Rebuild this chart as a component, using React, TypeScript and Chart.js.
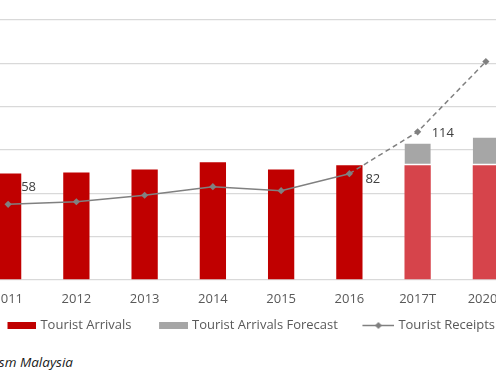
import React, { useEffect, useRef } from 'react';
import { Chart, registerables } from 'chart.js';

Chart.register(...registerables);

// ---- data ----
const categories = ['2011', '2012', '2013', '2014', '2015', '2016', '2017T', '2020F'];
const arrivals = [24.6, 24.8, 25.5, 27.2, 25.5, 26.5, 26.5, 26.5]; // million
const arrivalsForecast = [null, null, null, null, null, null, 5.0, 6.4]; // increment on top
const receipts = [58.2, 60.2, 65.2, 71.8, 68.7, 81.8, 114, 168]; // RM billion
const labelledPoints = [0, 5, 6, 7];
const leftAxis = { min: 0, max: 60, step: 10 };
const rightAxis = { min: 0, max: 200 };
const sourceText = 'Source: Tourism Malaysia';

// ---- styles ----
const RED = '#C00000';
const RED_FORECAST = '#D6444B';
const GREY_BAR = '#A6A6A6';
const LINE = '#808080';
const FONT = "'Open Sans', 'DejaVu Sans', sans-serif";
const labelOffsets: Record<number, [number, number]> = {
  0: [13, -17],
  5: [16, 6],
  6: [14, 1],
  7: [14, 0],
};

// legend marker images (transparent left part widens the gap between items)
function makeLegendImage(kind: 'rect' | 'line', color: string): HTMLCanvasElement {
  const c = document.createElement('canvas');
  c.width = 46;
  c.height = 9;
  const g = c.getContext('2d')!;
  if (kind === 'rect') {
    g.fillStyle = color;
    g.fillRect(17, 1, 29, 7);
  } else {
    g.strokeStyle = color;
    g.lineWidth = 1.5;
    g.beginPath();
    g.moveTo(14, 4.5);
    g.lineTo(46, 4.5);
    g.stroke();
    g.fillStyle = color;
    g.beginPath();
    g.moveTo(30, 1);
    g.lineTo(33.5, 4.5);
    g.lineTo(30, 8);
    g.lineTo(26.5, 4.5);
    g.closePath();
    g.fill();
  }
  return c;
}

const receiptLabels = {
  id: 'receiptLabels',
  afterDatasetsDraw(chart: any) {
    const meta = chart.getDatasetMeta(2);
    const ctx = chart.ctx;
    ctx.save();
    ctx.font = `13px ${FONT}`;
    ctx.fillStyle = '#404040';
    ctx.textAlign = 'left';
    ctx.textBaseline = 'middle';
    labelledPoints.forEach((i) => {
      const pt = meta.data[i];
      if (!pt) return;
      const [dx, dy] = labelOffsets[i] || [14, 0];
      ctx.fillText(String(Math.round(receipts[i])), pt.x + dx, pt.y + dy);
    });
    ctx.restore();
  },
};

export default function App() {
  const ref = useRef<HTMLCanvasElement | null>(null);

  useEffect(() => {
    if (!ref.current) return;
    Chart.defaults.font.family = FONT;
    const imgArrivals = makeLegendImage('rect', RED);
    const imgForecast = makeLegendImage('rect', GREY_BAR);
    const imgReceipts = makeLegendImage('line', LINE);
    const chart = new Chart(ref.current, {
      type: 'bar',
      data: {
        labels: categories,
        datasets: [
          {
            label: 'Tourist Arrivals',
            data: arrivals,
            backgroundColor: arrivals.map((_, i) => (i >= 6 ? RED_FORECAST : RED)),
            borderWidth: 0,
            yAxisID: 'y',
            stack: 'a',
            categoryPercentage: 1,
            barPercentage: 0.385,
            order: 2,
          },
          {
            label: 'Tourist Arrivals Forecast',
            data: arrivalsForecast as any,
            backgroundColor: GREY_BAR,
            borderColor: '#ffffff',
            borderWidth: { top: 0, left: 0, right: 0, bottom: 1.5 },
            borderSkipped: false,
            yAxisID: 'y',
            stack: 'a',
            categoryPercentage: 1,
            barPercentage: 0.385,
            order: 2,
          },
          {
            type: 'line',
            label: 'Tourist Receipts',
            data: receipts,
            yAxisID: 'y1',
            borderColor: LINE,
            backgroundColor: LINE,
            borderWidth: 1.5,
            pointStyle: 'rectRot',
            pointRadius: 3.6,
            pointBorderWidth: 0,
            pointBackgroundColor: LINE,
            tension: 0,
            order: 1,
            segment: {
              borderDash: (c: any) => (c.p0DataIndex >= 5 ? [5, 3.5] : undefined),
            },
          } as any,
        ],
      },
      options: {
        animation: false,
        responsive: true,
        maintainAspectRatio: false,
        layout: { padding: { top: 20, left: 0, right: 0, bottom: 0 } },
        scales: {
          x: {
            stacked: true,
            grid: { display: false, drawTicks: false },
            border: { display: false },
            ticks: {
              color: '#595959',
              font: { size: 13, lineHeight: 0.01 },
              padding: 19,
              autoSkip: false,
              maxRotation: 0,
            },
            afterFit: (scale: any) => {
              scale.height = 26;
            },
          },
          y: {
            stacked: true,
            min: leftAxis.min,
            max: leftAxis.max,
            ticks: { display: false, stepSize: leftAxis.step },
            grid: { color: '#D9D9D9', lineWidth: 1.3, drawTicks: false },
            border: { display: false },
            afterFit: (scale: any) => {
              scale.width = 10;
            },
          },
          y1: {
            display: false,
            position: 'right',
            min: rightAxis.min,
            max: rightAxis.max,
            grid: { drawOnChartArea: false },
          },
        },
        plugins: {
          tooltip: { enabled: false },
          legend: {
            position: 'bottom',
            labels: {
              usePointStyle: true,
              pointStyleWidth: 41,
              boxHeight: 7,
              padding: 13,
              color: '#595959',
              font: { size: 13 },
              generateLabels: () => [
                { text: 'Tourist Arrivals', fillStyle: RED, strokeStyle: RED, lineWidth: 0, pointStyle: imgArrivals, datasetIndex: 0, hidden: false, fontColor: '#595959' } as any,
                { text: 'Tourist Arrivals Forecast', fillStyle: GREY_BAR, strokeStyle: GREY_BAR, lineWidth: 0, pointStyle: imgForecast, datasetIndex: 1, hidden: false, fontColor: '#595959' } as any,
                { text: 'Tourist Receipts', fillStyle: LINE, strokeStyle: LINE, lineWidth: 0, pointStyle: imgReceipts, datasetIndex: 2, hidden: false, fontColor: '#595959' } as any,
              ],
            },
          },
        },
      },
      plugins: [receiptLabels],
    });
    return () => chart.destroy();
  }, []);

  return (
    <div style={{ position: 'fixed', left: 0, top: 0, width: 496, height: 380, overflow: 'hidden', background: '#fff' }}>
      <div style={{ position: 'absolute', left: -36, top: 0, width: 560, height: 342 }}>
        <canvas ref={ref} />
      </div>
      <div
        style={{
          position: 'absolute',
          right: 423,
          top: 354,
          whiteSpace: 'nowrap',
          fontFamily: FONT,
          fontStyle: 'italic',
          fontSize: 13.5,
          lineHeight: '16px',
          color: '#1a1a1a',
        }}
      >
        {sourceText}
      </div>
    </div>
  );
}
